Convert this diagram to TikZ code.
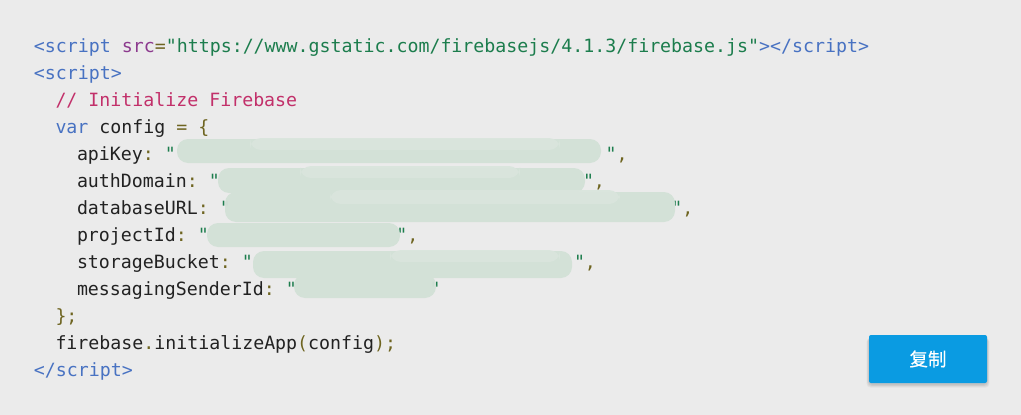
\documentclass[tikz,border=0pt]{standalone}
\usepackage{fontspec}
\newfontfamily\codefont{DejaVu Sans Mono}
\newfontfamily\cjk{Noto Sans CJK SC}[FakeBold=0.5]
\definecolor{bgc}{HTML}{EBEBEB}
\definecolor{tagc}{HTML}{4872C2}
\definecolor{attrc}{HTML}{8C3A8E}
\definecolor{strc}{HTML}{1C7D4D}
\definecolor{punc}{HTML}{6E6420}
\definecolor{cmtc}{HTML}{C2306A}
\definecolor{txtc}{HTML}{222222}
\definecolor{blobc}{HTML}{D3E1D7}
\definecolor{blobd}{HTML}{DAE5DD}
\definecolor{btnc}{HTML}{0A9BE2}
\newcommand\tg[1]{\textcolor{tagc}{#1}}
\newcommand\at[1]{\textcolor{attrc}{#1}}
\newcommand\st[1]{\textcolor{strc}{#1}}
\newcommand\ol[1]{\textcolor{punc}{#1}}
\newcommand\cm[1]{\textcolor{cmtc}{#1}}
\begin{document}
\begin{tikzpicture}[x=1pt,y=-1pt,
  codeline/.style={anchor=base west,inner sep=0pt,outer sep=0pt,text=txtc,
    font=\codefont\fontsize{18.25pt}{27pt}\selectfont\frenchspacing},
  blob/.style={fill=blobc,rounded corners=11pt,opacity=0.97},
  shadowlayer/.style={fill=black,opacity=0.045,rounded corners=4pt},
  btn/.style={fill=btnc,rounded corners=2pt,minimum width=118pt,minimum height=48pt,
    inner sep=0pt,text=white,font=\cjk\fontsize{18.5pt}{20pt}\selectfont}]
\fill[bgc] (0,0) rectangle (1021,415);
\useasboundingbox (0,0) rectangle (1021,415);
% code lines
\node[codeline] (l0) at (34,52.8) {\tg{<script} \at{src}\ol{=}\st{"https://www.gstatic.com/firebasejs/4.1.3/firebase.js"}\tg{></script>}};
\node[codeline] (l1) at (34,79.8) {\tg{<script>}};
\node[codeline] (l2) at (55.5,106.8) {\cm{// Initialize Firebase}};
\node[codeline] (l3) at (55.5,133.8) {\tg{var} config \ol{=} \ol{\{}};
\node[codeline] (l4) at (77,160.8) {apiKey\ol{:} \st{"}};
\node[codeline] (l5) at (77,187.8) {authDomain\ol{:} \st{"}};
\node[codeline] (l6) at (77,214.8) {databaseURL\ol{:} \st{"}};
\node[codeline] (l7) at (77,241.8) {projectId\ol{:} \st{"}};
\node[codeline] (l8) at (77,268.8) {storageBucket\ol{:} \st{"}};
\node[codeline] (l9) at (77,295.8) {messagingSenderId\ol{:} \st{"}};
\node[codeline] (l10) at (55.5,322.8) {\ol{\};}};
\node[codeline] (l11) at (55.5,349.8) {firebase\ol{.}initializeApp\ol{(}config\ol{);}};
\node[codeline] (l12) at (34,376.8) {\tg{</script>}};
% closing quotes
\node[codeline] (q4) at (605.6,160.8) {\st{"}\ol{,}};
\node[codeline] (q5) at (583,187.8) {\st{"}\ol{,}};
\node[codeline] (q6) at (671.3,214.8) {\st{"}\ol{,}};
\node[codeline] (q7) at (396.3,241.8) {\st{"}\ol{,}};
\node[codeline] (q8) at (574,268.8) {\st{"}\ol{,}};
\node[codeline] (q9) at (429.6,295.8) {\st{"}};
% redaction blobs
\fill[blob] (177,139) rectangle (601,163);
\fill[blob,fill=blobd] (250,138) rectangle (560,150);
\fill[blob] (218,168) rectangle (585,193);
\fill[blob,fill=blobd] (300,166) rectangle (520,178);
\fill[blob] (225,192) rectangle (675,222);
\fill[blob,fill=blobd] (330,190) rectangle (620,204);
\fill[blob] (207,223) rectangle (400,247);
\fill[blob] (253,251) rectangle (572,278);
\fill[blob,fill=blobd] (390,250) rectangle (560,262);
\fill[blob] (294,274) rectangle (436,298);
% copy button with soft shadow
\foreach \s in {1,2,3,4}{
  \fill[shadowlayer] (869-\s*0.6,337+\s*0.2) rectangle (987+\s*0.6,384+\s*0.9);
}
\node[btn] (copy) at (928,359) {复制};
\end{tikzpicture}
\end{document}
